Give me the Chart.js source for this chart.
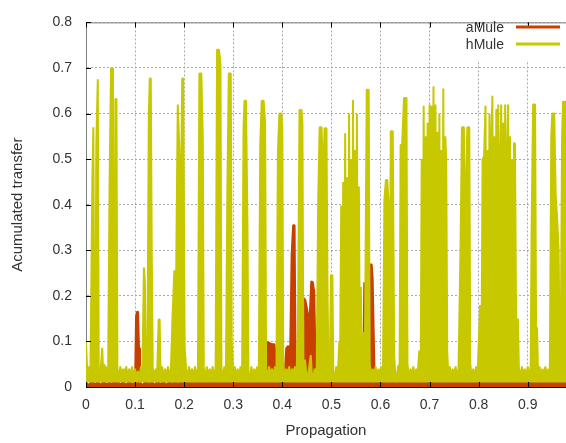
<!DOCTYPE html>
<html>
<head>
<meta charset="utf-8">
<script src="https://cdn.jsdelivr.net/npm/chart.js@4.4.1/dist/chart.umd.min.js"></script>
<style>
  html, body { margin: 0; padding: 0; background: #fff; }
  #wrap { width: 566px; height: 443px; }
</style>
</head>
<body>
<div id="wrap"><canvas id="transferChart" width="566" height="443"></canvas></div>
<script>
// axis ticks
const xTicks = [0, 0.1, 0.2, 0.3, 0.4, 0.5, 0.6, 0.7, 0.8, 0.9];
const yTicks = [0, 0.1, 0.2, 0.3, 0.4, 0.5, 0.6, 0.7, 0.8];

// aMule: propagation / accumulated transfer
const aMuleX = [
  0.000, 0.006, 0.012, 0.018, 0.024, 0.030, 0.036, 0.042, 0.048, 0.054, 0.056, 0.058,
  0.064, 0.070, 0.076, 0.082, 0.088, 0.094, 0.100, 0.102, 0.104, 0.106, 0.108, 0.110,
  0.116, 0.122, 0.128, 0.134, 0.140, 0.146, 0.152, 0.158, 0.164, 0.170, 0.176, 0.182,
  0.188, 0.194, 0.200, 0.206, 0.212, 0.218, 0.224, 0.230, 0.236, 0.242, 0.248, 0.254,
  0.260, 0.266, 0.272, 0.278, 0.284, 0.290, 0.296, 0.302, 0.308, 0.314, 0.320, 0.326,
  0.332, 0.338, 0.344, 0.350, 0.356, 0.362, 0.365, 0.367, 0.372, 0.376, 0.380, 0.384,
  0.387, 0.389, 0.394, 0.400, 0.405, 0.408, 0.412, 0.416, 0.419, 0.422, 0.425, 0.427,
  0.432, 0.436, 0.438, 0.441, 0.444, 0.447, 0.450, 0.453, 0.456, 0.459, 0.462, 0.465,
  0.467, 0.470, 0.476, 0.482, 0.488, 0.494, 0.500, 0.506, 0.512, 0.518, 0.524, 0.530,
  0.536, 0.542, 0.548, 0.554, 0.560, 0.565, 0.567, 0.569, 0.572, 0.575, 0.578, 0.582,
  0.584, 0.586, 0.588, 0.594, 0.600, 0.606, 0.612, 0.618, 0.624, 0.630, 0.636, 0.642,
  0.648, 0.654, 0.660, 0.666, 0.672, 0.678, 0.684, 0.690, 0.696, 0.702, 0.708, 0.714,
  0.720, 0.726, 0.732, 0.738, 0.744, 0.750, 0.756, 0.762, 0.768, 0.774, 0.780, 0.786,
  0.792, 0.798, 0.804, 0.810, 0.816, 0.822, 0.828, 0.834, 0.840, 0.846, 0.852, 0.858,
  0.864, 0.870, 0.876, 0.882, 0.888, 0.894, 0.900, 0.906, 0.912, 0.918, 0.924, 0.930,
  0.936, 0.942, 0.948, 0.954, 0.960, 0.964, 0.967, 0.970, 0.973, 0.975, 0.978
];
const aMuleY = [
  0.010, 0.004, 0.013, 0.005, 0.012, 0.004, 0.013, 0.006, 0.010, 0.004, 0.060, 0.010,
  0.013, 0.005, 0.012, 0.004, 0.013, 0.006, 0.010, 0.155, 0.165, 0.165, 0.086, 0.010,
  0.004, 0.013, 0.006, 0.012, 0.004, 0.013, 0.006, 0.012, 0.004, 0.013, 0.006, 0.012,
  0.005, 0.018, 0.008, 0.028, 0.010, 0.033, 0.008, 0.028, 0.010, 0.033, 0.008, 0.030,
  0.010, 0.033, 0.008, 0.028, 0.010, 0.033, 0.008, 0.028, 0.010, 0.033, 0.008, 0.030,
  0.010, 0.033, 0.010, 0.033, 0.008, 0.033, 0.035, 0.0975, 0.0975, 0.095, 0.094, 0.094,
  0.060, 0.033, 0.010, 0.028, 0.030, 0.085, 0.090, 0.080, 0.290, 0.355, 0.355, 0.050,
  0.010, 0.028, 0.050, 0.107, 0.195, 0.190, 0.173, 0.155, 0.160, 0.232, 0.230, 0.210,
  0.100, 0.035, 0.008, 0.025, 0.010, 0.028, 0.008, 0.022, 0.010, 0.020, 0.006, 0.018,
  0.008, 0.020, 0.006, 0.018, 0.010, 0.025, 0.230, 0.140, 0.035, 0.010, 0.269, 0.269,
  0.240, 0.130, 0.025, 0.008, 0.018, 0.006, 0.016, 0.008, 0.018, 0.006, 0.016, 0.008,
  0.018, 0.006, 0.016, 0.008, 0.018, 0.006, 0.020, 0.008, 0.025, 0.006, 0.022, 0.010,
  0.028, 0.008, 0.020, 0.006, 0.016, 0.008, 0.018, 0.006, 0.016, 0.008, 0.018, 0.006,
  0.016, 0.008, 0.018, 0.006, 0.020, 0.008, 0.025, 0.006, 0.020, 0.008, 0.025, 0.006,
  0.018, 0.008, 0.022, 0.008, 0.022, 0.008, 0.018, 0.006, 0.016, 0.008, 0.018, 0.006,
  0.016, 0.008, 0.018, 0.006, 0.020, 0.010, 0.095, 0.070, 0.090, 0.020, 0.010
];

// hMule: propagation / accumulated transfer
const hMuleX = [
  0.000, 0.003, 0.006, 0.009, 0.011, 0.013, 0.015, 0.017, 0.019, 0.021, 0.024, 0.026,
  0.028, 0.030, 0.033, 0.035, 0.038, 0.040, 0.042, 0.045, 0.048, 0.051, 0.053, 0.055,
  0.057, 0.060, 0.062, 0.064, 0.067, 0.070, 0.073, 0.076, 0.079, 0.082, 0.085, 0.088,
  0.091, 0.094, 0.097, 0.100, 0.103, 0.106, 0.109, 0.112, 0.115, 0.118, 0.120, 0.122,
  0.125, 0.128, 0.130, 0.132, 0.134, 0.136, 0.139, 0.142, 0.145, 0.148, 0.150, 0.152,
  0.155, 0.158, 0.161, 0.164, 0.167, 0.170, 0.173, 0.176, 0.180, 0.182, 0.185, 0.187,
  0.190, 0.193, 0.196, 0.198, 0.201, 0.204, 0.207, 0.210, 0.213, 0.216, 0.219, 0.222,
  0.225, 0.228, 0.231, 0.235, 0.238, 0.240, 0.243, 0.246, 0.249, 0.252, 0.255, 0.258,
  0.261, 0.264, 0.267, 0.271, 0.274, 0.276, 0.279, 0.282, 0.285, 0.288, 0.291, 0.295,
  0.297, 0.300, 0.303, 0.306, 0.309, 0.312, 0.315, 0.318, 0.321, 0.323, 0.326, 0.329,
  0.331, 0.334, 0.337, 0.340, 0.343, 0.346, 0.349, 0.352, 0.355, 0.358, 0.362, 0.365,
  0.367, 0.370, 0.373, 0.376, 0.379, 0.382, 0.385, 0.388, 0.391, 0.394, 0.398, 0.400,
  0.402, 0.405, 0.408, 0.411, 0.414, 0.417, 0.420, 0.423, 0.426, 0.429, 0.432, 0.435,
  0.439, 0.441, 0.443, 0.446, 0.449, 0.452, 0.455, 0.458, 0.460, 0.463, 0.466, 0.470,
  0.473, 0.476, 0.480, 0.483, 0.486, 0.490, 0.492, 0.494, 0.497, 0.499, 0.502, 0.504,
  0.507, 0.510, 0.513, 0.516, 0.518,
  0.520, 0.522, 0.524, 0.526, 0.528, 0.530, 0.532, 0.534, 0.536, 0.538, 0.540, 0.542,
  0.544, 0.546, 0.548, 0.550, 0.552, 0.554, 0.556, 0.558, 0.560, 0.562, 0.564, 0.566,
  0.568, 0.572, 0.576, 0.578, 0.581, 0.584, 0.587, 0.590, 0.593, 0.596, 0.599, 0.602,
  0.605, 0.608, 0.611, 0.614, 0.616, 0.619, 0.621, 0.625, 0.628, 0.630, 0.633, 0.636,
  0.639, 0.641, 0.644, 0.648, 0.653, 0.655, 0.658, 0.661, 0.664, 0.667, 0.670, 0.673,
  0.676, 0.679, 0.682,
  0.684, 0.686, 0.688, 0.690, 0.692, 0.694, 0.696, 0.698, 0.700, 0.702, 0.704, 0.706,
  0.708, 0.710, 0.712, 0.714, 0.716, 0.718, 0.720, 0.722, 0.724, 0.726, 0.728, 0.730,
  0.732, 0.734, 0.736, 0.738,
  0.741, 0.744, 0.747, 0.750, 0.753, 0.756, 0.759, 0.763, 0.766, 0.770, 0.772, 0.774,
  0.777, 0.781, 0.783, 0.786, 0.789, 0.792, 0.795, 0.798, 0.801, 0.803, 0.806, 0.808,
  0.811,
  0.814, 0.816, 0.818, 0.820, 0.822, 0.824, 0.826, 0.828, 0.830, 0.832, 0.834, 0.836,
  0.838, 0.840, 0.842, 0.844, 0.846, 0.848, 0.850, 0.852, 0.854, 0.856, 0.858, 0.860,
  0.862, 0.864, 0.866, 0.868, 0.870, 0.872, 0.874, 0.876, 0.878, 0.880, 0.882,
  0.885, 0.888, 0.891, 0.894, 0.897, 0.900, 0.903, 0.906, 0.908, 0.911, 0.915, 0.917,
  0.919, 0.921, 0.924, 0.927, 0.930, 0.933, 0.936, 0.939, 0.942, 0.945, 0.948, 0.950,
  0.954, 0.957, 0.960, 0.963, 0.965, 0.967, 0.970, 0.972, 0.978
];
const hMuleY = [
  0.100, 0.020, 0.045, 0.030, 0.240, 0.460, 0.570, 0.050, 0.020, 0.530, 0.675, 0.040,
  0.020, 0.040, 0.086, 0.030, 0.050, 0.020, 0.045, 0.020, 0.440, 0.700, 0.700, 0.440,
  0.050, 0.632, 0.632, 0.040, 0.020, 0.045, 0.025, 0.040, 0.030, 0.045, 0.020, 0.040,
  0.025, 0.045, 0.020, 0.040, 0.020, 0.035, 0.020, 0.045, 0.030, 0.262, 0.230, 0.040,
  0.020, 0.600, 0.677, 0.677, 0.290, 0.040, 0.020, 0.040, 0.030, 0.148, 0.148, 0.030,
  0.045, 0.020, 0.040, 0.025, 0.045, 0.020, 0.040, 0.144, 0.256, 0.030, 0.400, 0.620,
  0.527, 0.350, 0.677, 0.677, 0.087, 0.040, 0.020, 0.045, 0.025, 0.040, 0.020, 0.045,
  0.030, 0.020, 0.688, 0.688, 0.542, 0.040, 0.020, 0.045, 0.025, 0.040, 0.020, 0.045,
  0.030, 0.020, 0.740, 0.740, 0.710, 0.040, 0.020, 0.045, 0.020, 0.430, 0.688, 0.688,
  0.100, 0.030, 0.045, 0.020, 0.040, 0.025, 0.045, 0.020, 0.570, 0.628, 0.628, 0.353,
  0.030, 0.020, 0.045, 0.020, 0.040, 0.025, 0.045, 0.020, 0.530, 0.628, 0.628, 0.580,
  0.040, 0.020, 0.045, 0.025, 0.040, 0.020, 0.045, 0.020, 0.514, 0.600, 0.600, 0.570,
  0.050, 0.020, 0.040, 0.025, 0.045, 0.020, 0.040, 0.030, 0.045, 0.020, 0.150, 0.608,
  0.608, 0.580, 0.030, 0.060, 0.030, 0.020, 0.045, 0.070, 0.030, 0.020, 0.040, 0.030,
  0.400, 0.570, 0.570, 0.450, 0.568, 0.568, 0.230, 0.030, 0.050, 0.245, 0.245, 0.030,
  0.020, 0.045, 0.020, 0.100, 0.100,
  0.398, 0.050, 0.450, 0.040, 0.557, 0.100, 0.460, 0.030, 0.600, 0.050, 0.500, 0.040,
  0.630, 0.060, 0.520, 0.030, 0.600, 0.050, 0.440, 0.040, 0.220, 0.030, 0.110, 0.120,
  0.030, 0.652, 0.652, 0.050, 0.020, 0.040, 0.025, 0.045, 0.020, 0.040, 0.030, 0.045,
  0.020, 0.410, 0.454, 0.454, 0.410, 0.150, 0.561, 0.561, 0.070, 0.030, 0.020, 0.045,
  0.050, 0.531, 0.531, 0.634, 0.634, 0.050, 0.020, 0.040, 0.025, 0.045, 0.020, 0.040,
  0.030, 0.080, 0.050,
  0.500, 0.050, 0.617, 0.040, 0.550, 0.030, 0.580, 0.060, 0.620, 0.040, 0.617, 0.050,
  0.660, 0.030, 0.620, 0.060, 0.560, 0.040, 0.600, 0.050, 0.520, 0.030, 0.655, 0.050,
  0.550, 0.500, 0.080, 0.030,
  0.045, 0.020, 0.040, 0.025, 0.045, 0.020, 0.040, 0.300, 0.570, 0.570, 0.120, 0.450,
  0.570, 0.570, 0.050, 0.020, 0.040, 0.020, 0.045, 0.030, 0.120, 0.180, 0.100, 0.500,
  0.505,
  0.617, 0.050, 0.520, 0.040, 0.600, 0.030, 0.550, 0.639, 0.050, 0.550, 0.040, 0.610,
  0.060, 0.620, 0.030, 0.500, 0.620, 0.050, 0.580, 0.040, 0.620, 0.060, 0.520, 0.620,
  0.030, 0.550, 0.050, 0.500, 0.040, 0.535, 0.535, 0.200, 0.080, 0.150, 0.040,
  0.020, 0.045, 0.025, 0.040, 0.020, 0.045, 0.030, 0.040, 0.350, 0.620, 0.620, 0.130,
  0.130, 0.030, 0.045, 0.020, 0.040, 0.025, 0.045, 0.020, 0.040, 0.030, 0.550, 0.600,
  0.600, 0.420, 0.370, 0.300, 0.060, 0.030, 0.550, 0.626, 0.626
];

const AMULE_COLOR = '#c84000';
const HMULE_COLOR = '#c8c800';
const TEXT_COLOR = '#333333';
const FONT = "'Liberation Sans', Arial, sans-serif";

function toPoints(xs, ys) {
  return xs.map((x, i) => ({ x: x, y: ys[i] }));
}

function tickLabel(v) {
  return v === 0 ? '0' : v.toFixed(1);
}

// full frame, inward tick marks and the key in the top right corner
const framePlugin = {
  id: 'frame',
  afterDraw(chart) {
    const { ctx, chartArea: a, scales } = chart;
    ctx.save();

    // key box hides the grid behind it
    ctx.fillStyle = '#fff';
    ctx.fillRect(457, a.top + 6, a.right - 457, 32);

    ctx.lineWidth = 1;
    ctx.strokeStyle = '#808080';
    ctx.beginPath();
    ctx.moveTo(a.left, a.top + 0.5);
    ctx.lineTo(a.right, a.top + 0.5);
    ctx.stroke();

    ctx.strokeStyle = '#000';
    ctx.beginPath();
    xTicks.forEach(v => {
      const px = Math.round(scales.x.getPixelForValue(v)) + 0.5;
      ctx.moveTo(px, a.top);
      ctx.lineTo(px, a.top + 5);
      ctx.moveTo(px, a.bottom);
      ctx.lineTo(px, a.bottom - 5);
    });
    yTicks.forEach(v => {
      const py = Math.round(scales.y.getPixelForValue(v)) + 0.5;
      ctx.moveTo(a.left, py);
      ctx.lineTo(a.left + 5, py);
    });
    ctx.stroke();

    const keys = [
      { text: 'aMule', color: AMULE_COLOR, y: 28 },
      { text: 'hMule', color: HMULE_COLOR, y: 45 }
    ];
    ctx.font = '14px ' + FONT;
    ctx.textAlign = 'right';
    ctx.textBaseline = 'middle';
    keys.forEach(k => {
      ctx.fillStyle = TEXT_COLOR;
      ctx.fillText(k.text, 504, k.y);
      ctx.strokeStyle = k.color;
      ctx.lineWidth = 3;
      ctx.beginPath();
      ctx.moveTo(516, k.y - 1);
      ctx.lineTo(560, k.y - 1);
      ctx.stroke();
    });
    ctx.restore();
  }
};

Chart.defaults.font.family = FONT;
Chart.defaults.color = TEXT_COLOR;

const ctx = document.getElementById('transferChart').getContext('2d');
new Chart(ctx, {
  type: 'line',
  data: {
    datasets: [
      {
        label: 'aMule',
        data: toPoints(aMuleX, aMuleY),
        borderColor: AMULE_COLOR,
        backgroundColor: AMULE_COLOR,
        borderWidth: 2,
        borderJoinStyle: 'bevel',
        pointRadius: 0,
        fill: 'origin',
        order: 1
      },
      {
        label: 'hMule',
        data: toPoints(hMuleX, hMuleY),
        borderColor: HMULE_COLOR,
        backgroundColor: HMULE_COLOR,
        borderWidth: 2,
        borderJoinStyle: 'bevel',
        pointRadius: 0,
        fill: { value: 0.01 },
        order: 0
      }
    ]
  },
  options: {
    responsive: false,
    animation: false,
    devicePixelRatio: 1,
    layout: { padding: { top: 15, right: 0, bottom: 0, left: 0 } },
    plugins: {
      legend: { display: false },
      tooltip: { enabled: false }
    },
    scales: {
      x: {
        type: 'linear',
        min: 0,
        max: 0.978,
        z: 1,
        afterBuildTicks: s => { s.ticks = xTicks.map(v => ({ value: v })); },
        afterFit: s => { s.height = 56; },
        ticks: { padding: 10, font: { size: 14 }, color: TEXT_COLOR, callback: tickLabel, maxRotation: 0 },
        grid: { color: '#a8a8a8', lineWidth: 1, drawTicks: false },
        border: { color: '#000', width: 1, dash: [2, 2] },
        title: { display: true, text: 'Propagation', font: { size: 15 }, color: TEXT_COLOR, padding: { top: 0, bottom: 3 } }
      },
      y: {
        type: 'linear',
        min: 0,
        max: 0.8,
        z: 1,
        afterBuildTicks: s => { s.ticks = yTicks.map(v => ({ value: v })); },
        afterFit: s => { s.width = 86; },
        ticks: { padding: 14, font: { size: 14 }, color: TEXT_COLOR, callback: tickLabel },
        grid: { color: '#a8a8a8', lineWidth: 1, drawTicks: false },
        border: { color: '#808080', width: 1, dash: [2, 2] },
        title: { display: true, text: 'Acumulated transfer', font: { size: 15 }, color: TEXT_COLOR, padding: { top: 9, bottom: 0 } }
      }
    }
  },
  plugins: [framePlugin]
});
</script>
</body>
</html>
